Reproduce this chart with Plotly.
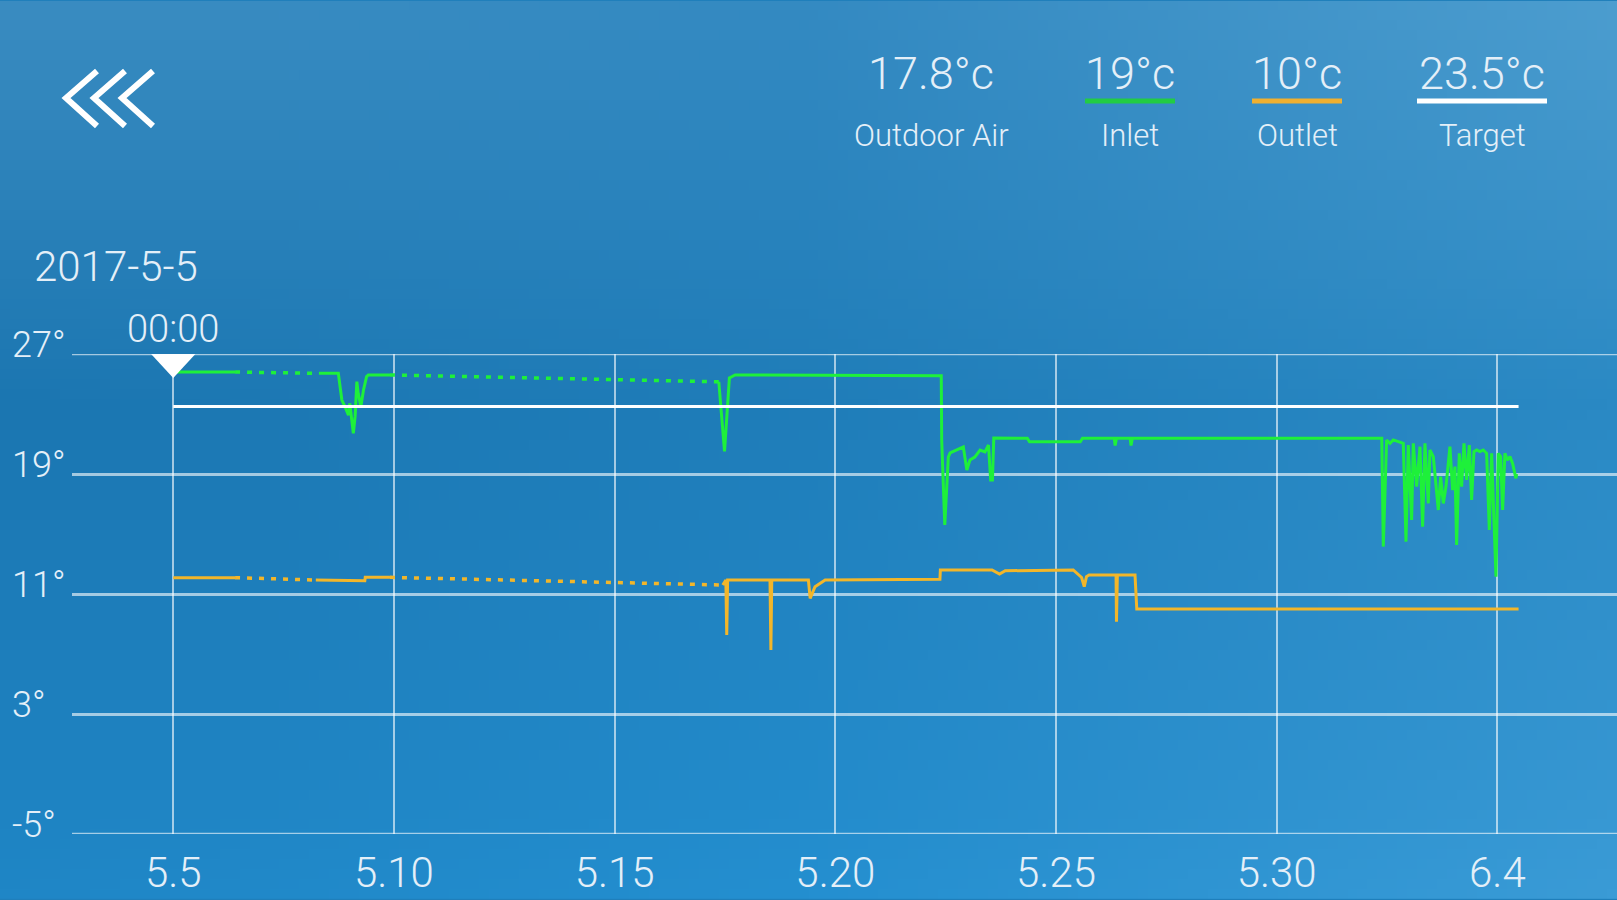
import numpy as np
import pandas as pd
import plotly.graph_objects as go

# ---------------- data ----------------
START = pd.Timestamp("2017-05-05 00:00")

# Inlet temperature: day offset from 2017-05-05 00:00, temperature (°C)
inlet_days = [0.00, 1.40, 3.30, 3.74, 3.79, 3.82, 3.89, 3.97, 4.00, 4.08, 4.12, 4.16, 4.19, 4.25,
              4.31, 4.38, 4.42, 4.91,
              12.36, 12.49, 12.60, 12.73, 17.40, 17.41, 17.48, 17.56, 17.60, 17.82, 17.90, 17.98,
              18.05, 18.16, 18.28, 18.39, 18.47, 18.52, 18.56, 18.59, 18.66,
              19.35, 19.40, 20.55, 20.60, 21.32, 21.34, 21.37, 21.68, 21.70, 21.73, 27.38,
              27.415, 27.491, 27.566, 27.642, 27.755, 27.868, 27.929, 27.981, 28.057, 28.095,
              28.170, 28.246, 28.306, 28.359, 28.435, 28.472, 28.548, 28.623, 28.661, 28.714,
              28.775, 28.835, 28.888, 28.925, 28.986, 29.039, 29.076, 29.137, 29.190, 29.243,
              29.303, 29.364, 29.416, 29.469, 29.530, 29.605, 29.681, 29.756, 29.817, 29.870,
              29.922, 29.968, 30.020, 30.073, 30.119, 30.171, 30.224, 30.285, 30.345, 30.383,
              30.420, 30.436]
inlet_temp = [25.80, 25.80, 25.71, 25.71, 24.60, 23.93, 23.49, 22.93, 23.71, 21.71, 22.82, 25.16,
              24.38, 23.49, 24.60, 25.49, 25.60, 25.60,
              25.15, 20.50, 25.40, 25.60, 25.55, 21.27, 15.60, 20.13, 20.40, 20.73, 20.80, 19.27,
              19.93, 20.13, 20.60, 20.47, 20.93, 18.60, 18.60, 21.40, 21.40,
              21.38, 21.15, 21.15, 21.38, 21.38, 20.90, 21.38, 21.38, 20.90, 21.38, 21.38,
              14.16, 21.27, 21.04, 21.27, 21.16, 21.04, 14.49, 20.93, 15.93, 21.04,
              18.16, 20.82, 15.49, 21.04, 17.04, 20.60, 20.16, 17.71, 16.60, 18.82,
              17.04, 18.16, 19.71, 20.82, 17.93, 19.49, 14.27, 20.38, 18.16, 21.04,
              18.60, 20.93, 17.27, 20.49, 20.60, 20.49, 20.60, 20.38, 15.27, 20.38,
              15.93, 12.16, 20.38, 20.16, 16.60, 20.38, 19.93, 20.16, 19.71, 19.27,
              18.71, 19.00]
inlet_gaps = [(1.40, 3.30), (4.91, 12.36)]   # periods without records (drawn dotted)

# Outlet temperature
outlet_days = [0.00, 1.40, 3.23, 4.34, 4.35, 4.91, 12.45, 12.52, 12.54, 12.56, 13.52, 13.54, 13.56,
               14.39, 14.43, 14.50, 14.54, 14.77, 17.37, 17.38, 18.55, 18.72, 18.85, 20.39, 20.58,
               20.64, 20.69, 20.75, 21.36, 21.37, 21.39, 21.79, 21.83, 30.48]
outlet_temp = [12.09, 12.09, 11.93, 11.89, 12.11, 12.11, 11.60, 11.93, 8.27, 11.93, 11.93, 7.27, 11.93,
               11.93, 10.71, 11.30, 11.49, 11.93, 11.98, 12.60, 12.60, 12.33, 12.55, 12.60, 12.10,
               11.49, 12.16, 12.27, 12.27, 9.15, 12.27, 12.27, 10.00, 10.00]
outlet_gaps = [(1.40, 3.23), (4.91, 12.45)]

# Target temperature
target_days = [0.00, 30.48]
target_temp = [23.5, 23.5]

# Axes
x_tick_days = [0, 5, 10, 15, 20, 25, 30]
x_tick_text = ["5.5", "5.10", "5.15", "5.20", "5.25", "5.30", "6.4"]
y_tick_vals = [27, 19, 11, 3, -5]
y_tick_text = ["27°", "19°", "11°", "3°", "-5°"]

# Header readings
legend_values = ["17.8°c", "19°c", "10°c", "23.5°c"]
legend_names = ["Outdoor Air", "Inlet", "Outlet", "Target"]
date_label = "2017-5-5"
time_label = "00:00"

# ---------------- styling ----------------
W, H = 1617, 900
FONT = "Roboto"
TXT = "#e4eff8"
GREEN = "#1ef03a"
ORANGE = "#f2b62a"
WHITE = "#ffffff"
legend_colors = [None, "#22cc44", "#f0b030", "#ffffff"]
legend_cx = [931, 1130, 1297, 1482]
legend_halfw = [0, 45, 45, 65]


def to_dates(days):
    return [START + pd.to_timedelta(d, unit="D") for d in days]


def split_series(days, temps, gaps):
    """solid parts separated by None, and dotted parts covering the gaps"""
    sx, sy, dx, dy = [], [], [], []
    gap_starts = {g[0]: g[1] for g in gaps}
    for i, (d, t) in enumerate(zip(days, temps)):
        sx.append(d)
        sy.append(t)
        if d in gap_starts and i + 1 < len(days) and days[i + 1] == gap_starts[d]:
            sx.append(None)
            sy.append(None)
            dx += [d, days[i + 1], None]
            dy += [t, temps[i + 1], None]
    sx = [None if v is None else START + pd.to_timedelta(v, unit="D") for v in sx]
    dx = [None if v is None else START + pd.to_timedelta(v, unit="D") for v in dx]
    return sx, sy, dx, dy


# ---------------- background gradient (style only) ----------------
GH, GW = 90, 162
anchor_y = [0.0, 0.45, 1.0]
anchor_x = [0.0, 0.5, 1.0]
anchor_rgb = np.array([
    [[58, 140, 193], [52, 138, 194], [76, 157, 207]],
    [[27, 118, 177], [31, 125, 185], [42, 137, 196]],
    [[31, 134, 198], [36, 143, 208], [58, 155, 214]],
], dtype=float)
gx = np.linspace(0, 1, GW)
gy = np.linspace(0, 1, GH)
rows = np.zeros((3, GW, 3))
for r in range(3):
    for c in range(3):
        rows[r, :, c] = np.interp(gx, anchor_x, anchor_rgb[r, :, c])
img = np.zeros((GH, GW, 3))
for j in range(GW):
    for c in range(3):
        img[:, j, c] = np.interp(gy, anchor_y, rows[:, j, c])
img = img.astype(np.uint8)

fig = go.Figure()
fig.add_trace(go.Image(z=img, xaxis="x", yaxis="y", hoverinfo="skip", zsmooth="fast"))

# ---------------- chart traces ----------------
for days, temps, gaps, color in [(inlet_days, inlet_temp, inlet_gaps, GREEN),
                                 (outlet_days, outlet_temp, outlet_gaps, ORANGE)]:
    sx, sy, dx, dy = split_series(days, temps, gaps)
    fig.add_trace(go.Scatter(x=dx, y=dy, mode="lines", xaxis="x2", yaxis="y2",
                             line=dict(color=color, width=3.5, dash="5px,7px"),
                             hoverinfo="skip", showlegend=False))
    fig.add_trace(go.Scatter(x=sx, y=sy, mode="lines", xaxis="x2", yaxis="y2",
                             line=dict(color=color, width=3),
                             hoverinfo="skip", showlegend=False))

fig.add_trace(go.Scatter(x=to_dates(target_days), y=target_temp, mode="lines",
                         xaxis="x2", yaxis="y2", line=dict(color=WHITE, width=3),
                         hoverinfo="skip", showlegend=False))

# ---------------- layout ----------------
x_left = START + pd.to_timedelta(-2.294, unit="D")
x_right = START + pd.to_timedelta(32.71, unit="D")
plot_l, plot_top, plot_bot = 72, 354, 834

grid = "rgba(255,255,255,0.6)"
fig.update_layout(
    width=W, height=H, margin=dict(l=0, r=0, t=0, b=0),
    paper_bgcolor="#1f7fbb", plot_bgcolor="rgba(0,0,0,0)",
    showlegend=False,
    font=dict(family=FONT, color=TXT, weight=300),
    xaxis=dict(domain=[0, 1], range=[-0.5, GW - 0.5], visible=False, fixedrange=True),
    yaxis=dict(domain=[0, 1], range=[GH - 0.5, -0.5], visible=False, fixedrange=True),
    xaxis2=dict(domain=[plot_l / W, 1], anchor="y2", type="date",
                range=[x_left, x_right],
                tickvals=to_dates(x_tick_days), ticktext=x_tick_text,
                showgrid=True, gridcolor=grid, gridwidth=2,
                zeroline=False, showline=False, ticks="",
                tickfont=dict(size=42, color=TXT, family=FONT, weight=300),
                ticklabelstandoff=10),
    yaxis2=dict(domain=[(H - plot_bot) / H, (H - plot_top) / H], anchor="x2",
                range=[-5, 27], tickvals=y_tick_vals, showticklabels=False,
                showgrid=True, gridcolor=grid, gridwidth=2.5,
                zeroline=False, showline=False, ticks=""),
)

ann = []
# y labels (left aligned, above their grid lines)
for v, t in zip(y_tick_vals, y_tick_text):
    ann.append(dict(xref="paper", yref="y2", x=10 / W, y=v, text=t, showarrow=False,
                    xanchor="left", yanchor="middle", yshift=9,
                    font=dict(size=36, color=TXT, family=FONT, weight=300)))
# date and time labels
ann.append(dict(xref="paper", yref="paper", x=116 / W, y=1 - 267 / H, text=date_label,
                showarrow=False, xanchor="center", yanchor="middle",
                font=dict(size=42, color=TXT, family=FONT, weight=300)))
ann.append(dict(xref="x2", yref="paper", x=START, y=1 - 329 / H, text=time_label,
                showarrow=False, xanchor="center", yanchor="middle",
                font=dict(size=38, color=TXT, family=FONT, weight=300)))
# header readings
for val, name, cx in zip(legend_values, legend_names, legend_cx):
    ann.append(dict(xref="paper", yref="paper", x=cx / W, y=1 - 74 / H, text=val,
                    showarrow=False, xanchor="center", yanchor="middle",
                    font=dict(size=45, color=TXT, family=FONT, weight=300)))
    ann.append(dict(xref="paper", yref="paper", x=cx / W, y=1 - 135 / H, text=name,
                    showarrow=False, xanchor="center", yanchor="middle",
                    font=dict(size=31, color=TXT, family=FONT, weight=300)))
fig.update_layout(annotations=ann)

shapes = []
# grid lines on the range edges (Plotly skips them)
for v in [y_tick_vals[0], y_tick_vals[-1]]:
    shapes.append(dict(type="line", xref="x2 domain", yref="y2", x0=0, x1=1, y0=v, y1=v,
                       line=dict(color=grid, width=2.5), layer="above"))
# legend underlines
for col, cx, hw in zip(legend_colors, legend_cx, legend_halfw):
    if col is None:
        continue
    shapes.append(dict(type="line", xref="paper", yref="paper",
                       x0=(cx - hw) / W, x1=(cx + hw) / W, y0=1 - 101 / H, y1=1 - 101 / H,
                       line=dict(color=col, width=5)))
# back chevrons
for tip in [66, 94, 122]:
    p = "M{:.5f},{:.5f} L{:.5f},{:.5f} L{:.5f},{:.5f}".format(
        (tip + 31) / W, 1 - 71 / H, tip / W, 1 - 98 / H, (tip + 31) / W, 1 - 126 / H)
    shapes.append(dict(type="path", xref="paper", yref="paper", path=p,
                       line=dict(color=WHITE, width=6)))
# time cursor triangle
shapes.append(dict(type="path", xref="x2", yref="y2", xsizemode="pixel", ysizemode="pixel",
                   xanchor=START, yanchor=27, path="M-24,2 L24,2 L0,-24 Z",
                   fillcolor=WHITE, line=dict(color=WHITE, width=0)))
fig.update_layout(shapes=shapes)

fig.write_html("out.html", config={"displayModeBar": False},
               post_script="document.body.style.margin='0';document.body.style.overflow='hidden';")
